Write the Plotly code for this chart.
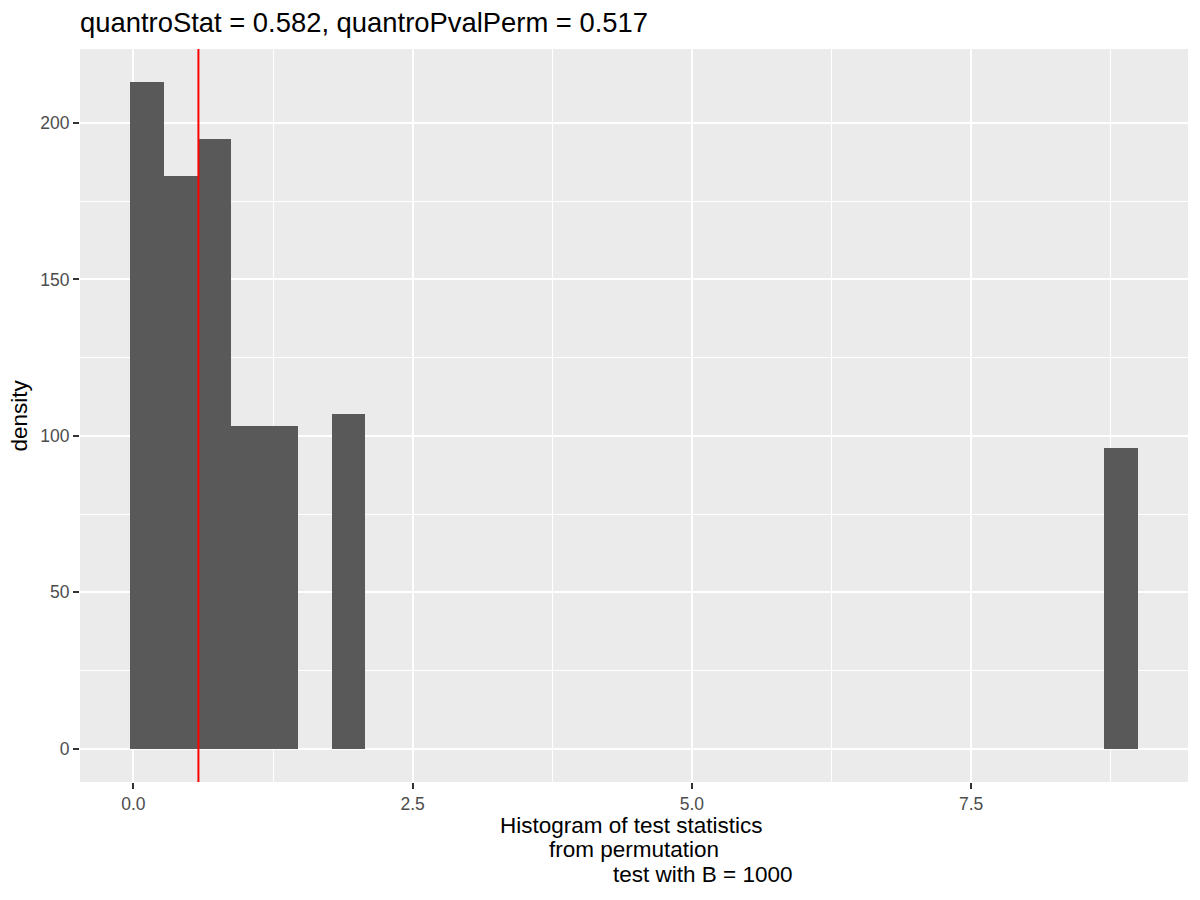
import plotly.graph_objects as go

# histogram bins (30 bins in ggplot, only the non-empty ones listed)
bin_centers = [0.123, 0.424, 0.725, 1.025, 1.326, 1.927, 8.840]
bin_density = [213, 183, 195, 103, 103, 107, 96]
bin_width = 0.3006

quantro_stat = 0.582
quantro_pval_perm = 0.517
n_perm = 1000

x_ticks = [0.0, 2.5, 5.0, 7.5]
x_ticklabels = ["0.0", "2.5", "5.0", "7.5"]
y_ticks = [0, 50, 100, 150, 200]

x_title_lines = ["Histogram of test statistics", "from permutation", f"test with B = {n_perm}"]

# ggplot-like 5% expansion of the data range
x_lo = min(bin_centers) - bin_width / 2
x_hi = max(bin_centers) + bin_width / 2
x_pad = (x_hi - x_lo) * 0.05
y_hi = max(bin_density)
y_pad = y_hi * 0.05

fig = go.Figure()

fig.add_trace(go.Bar(
    x=bin_centers,
    y=bin_density,
    width=bin_width,
    marker=dict(color="#595959", line=dict(width=0)),
    hovertemplate="%{x:.3f}: %{y}<extra></extra>",
))

fig.add_shape(
    type="line", xref="x", yref="paper",
    x0=quantro_stat, x1=quantro_stat, y0=0, y1=1,
    line=dict(color="#FF0000", width=2),
)

# x-axis title: ggplot draws it as one multi-line string with tighter line
# spacing than plotly allows, so one annotation per line
for line, dx, dy in zip(x_title_lines, [-2.5, -0.5, 68], [-43, -67.5, -92]):
    fig.add_annotation(
        text=line, xref="paper", yref="paper", x=0.5, y=0,
        xanchor="center", yanchor="middle", xshift=dx, yshift=dy,
        showarrow=False, font=dict(size=22.5, color="black"),
    )

fig.add_annotation(
    text="density", xref="paper", yref="paper", x=0, y=0.5,
    xanchor="center", yanchor="middle", xshift=-61, textangle=-90,
    showarrow=False, font=dict(size=22.5, color="black"),
)

axis_style = dict(
    showgrid=True, gridcolor="white", gridwidth=1.7,
    zeroline=False, showline=False,
    ticks="outside", ticklen=6, tickwidth=1.7, tickcolor="#333333",
    tickfont=dict(size=17.5, color="#4D4D4D"),
)

# the page body has an 8px margin, so the figure margins are shifted by it
fig.update_layout(
    width=1200, height=900,
    margin=dict(l=72, r=20, t=41, b=126),
    paper_bgcolor="white",
    plot_bgcolor="#EBEBEB",
    font=dict(family="Liberation Sans, Arial, sans-serif", color="black"),
    showlegend=False,
    bargap=0,
    title=dict(
        text=f"quantroStat = {quantro_stat}, quantroPvalPerm = {quantro_pval_perm}",
        x=0, xref="paper", xanchor="left",
        y=1 - 14 / 900, yref="container", yanchor="middle",
        font=dict(size=27.4, color="black"),
    ),
    xaxis=dict(
        range=[x_lo - x_pad, x_hi + x_pad],
        tickvals=x_ticks, ticktext=x_ticklabels,
        minor=dict(tick0=1.25, dtick=2.5, showgrid=True, gridcolor="white",
                   gridwidth=0.9, ticks=""),
        **axis_style,
    ),
    yaxis=dict(
        range=[-y_pad, y_hi + y_pad],
        tickvals=y_ticks,
        minor=dict(tick0=25, dtick=50, showgrid=True, gridcolor="white",
                   gridwidth=0.9, ticks=""),
        **axis_style,
    ),
)

fig.write_html("out.html")
